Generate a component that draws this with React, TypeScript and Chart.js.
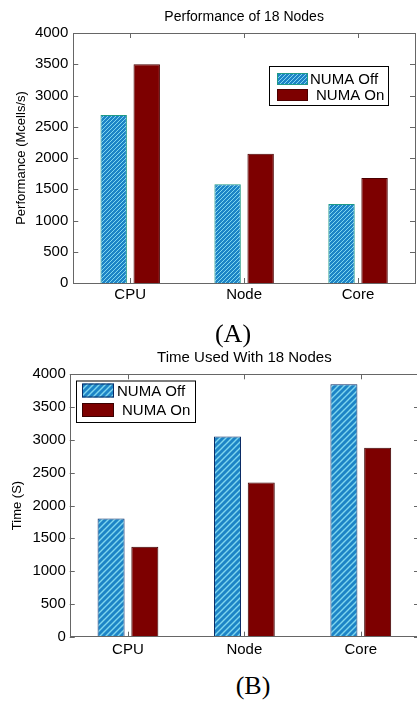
import React, { useEffect, useRef } from "react";
import { Chart, registerables } from "chart.js";

Chart.register(...registerables);

// ---- data ----
const categories = ["CPU", "Node", "Core"];
const seriesNames = ["NUMA Off", "NUMA On"];
const perfNumaOff = [2690, 1580, 1265];
const perfNumaOn = [3500, 2070, 1680];
const timeNumaOff = [1800, 3050, 3850];
const timeNumaOn = [1370, 2350, 2880];
const yTickStep = 500;
const yMax = 4000;

const FONT = "'Liberation Sans', Arial, sans-serif";

function makeHatch(base: string, stripe: string, size: number, lw: number): CanvasPattern | string {
  const c = document.createElement("canvas");
  c.width = size;
  c.height = size;
  const g = c.getContext("2d");
  if (!g) return base;
  g.fillStyle = base;
  g.fillRect(0, 0, size, size);
  g.strokeStyle = stripe;
  g.lineWidth = lw;
  g.beginPath();
  g.moveTo(-1, size + 1);
  g.lineTo(size + 1, -1);
  g.moveTo(-1, 1);
  g.lineTo(1, -1);
  g.moveTo(size - 1, size + 1);
  g.lineTo(size + 1, size - 1);
  g.stroke();
  const p = g.createPattern(c, "repeat");
  return p || base;
}

type LegendEntry = { sx: number; sy: number; sw: number; sh: number; tx: number; ty: number };
type PanelCfg = {
  title: string;
  yTitle: string;
  off: number[];
  on: number[];
  width: number;
  height: number;
  top: number;
  axisW: number;
  padTop: number;
  padRight: number;
  axisH: number;
  titleY: number;
  yTitleX: number;
  hatchSize: number;
  hatchLw: number;
  offBorder: string;
  onBorder: string;
  frameColor: string;
  legendBox: [number, number, number, number];
  legendItems: LegendEntry[];
  tickPadY: number;
  tickPadX: number;
  titleSize: number;
};

const decorPlugin = {
  id: "decor",
  afterDraw(chart: any, _args: any, o: any) {
    const ctx: CanvasRenderingContext2D = chart.ctx;
    const a = chart.chartArea;
    const ys = chart.scales.y;
    const xs = chart.scales.x;
    ctx.save();
    // frame
    ctx.strokeStyle = o.frameColor;
    ctx.lineWidth = 1;
    ctx.strokeRect(Math.round(a.left) + 0.5, Math.round(a.top) + 0.5, Math.round(a.right - a.left), Math.round(a.bottom - a.top));
    // inward ticks
    const tl = 5;
    ctx.beginPath();
    for (let v = 0; v <= yMax; v += yTickStep) {
      const y = Math.round(ys.getPixelForValue(v)) + 0.5;
      ctx.moveTo(a.left, y);
      ctx.lineTo(a.left + tl, y);
      ctx.moveTo(a.right, y);
      ctx.lineTo(a.right - tl, y);
    }
    categories.forEach((_c, i) => {
      const x = Math.round(xs.getPixelForValue(i)) + 0.5;
      ctx.moveTo(x, a.bottom);
      ctx.lineTo(x, a.bottom - tl);
      ctx.moveTo(x, a.top);
      ctx.lineTo(x, a.top + tl);
    });
    ctx.stroke();
    // title
    ctx.fillStyle = "#000";
    ctx.font = `${o.titleSize}px ${FONT}`;
    ctx.textAlign = "center";
    ctx.textBaseline = "middle";
    ctx.fillText(o.title, (a.left + a.right) / 2, o.titleY);
    // y title
    ctx.save();
    ctx.translate(o.yTitleX, (a.top + a.bottom) / 2);
    ctx.rotate(-Math.PI / 2);
    ctx.font = `13px ${FONT}`;
    ctx.fillText(o.yTitle, 0, 0);
    ctx.restore();
    // legend
    const [bx, by, bw, bh] = o.legendBox;
    ctx.fillStyle = "#fff";
    ctx.fillRect(bx, by, bw, bh);
    ctx.strokeStyle = "#000";
    ctx.strokeRect(bx + 0.5, by + 0.5, bw, bh);
    ctx.font = `15px ${FONT}`;
    ctx.textAlign = "left";
    o.legendItems.forEach((it: LegendEntry, i: number) => {
      const ds = chart.data.datasets[i];
      ctx.fillStyle = ds.backgroundColor;
      ctx.fillRect(it.sx, it.sy, it.sw, it.sh);
      ctx.strokeStyle = ds.borderColor;
      ctx.strokeRect(it.sx + 0.5, it.sy + 0.5, it.sw - 1, it.sh - 1);
      ctx.fillStyle = "#000";
      ctx.fillText(seriesNames[i], it.tx, it.ty);
    });
    ctx.restore();
  },
};

function BarPanel({ cfg }: { cfg: PanelCfg }) {
  const ref = useRef<HTMLCanvasElement | null>(null);
  useEffect(() => {
    if (!ref.current) return;
    const hatch = makeHatch("#1d84c6", "#7fd6ee", cfg.hatchSize, cfg.hatchLw);
    const chart = new Chart(ref.current, {
      type: "bar",
      data: {
        labels: categories,
        datasets: [
          {
            label: seriesNames[0],
            data: cfg.off,
            backgroundColor: hatch as any,
            borderColor: cfg.offBorder,
            borderWidth: 1,
            categoryPercentage: 0.58,
            barPercentage: 0.8,
          },
          {
            label: seriesNames[1],
            data: cfg.on,
            backgroundColor: "#7d0000",
            borderColor: cfg.onBorder,
            borderWidth: 1,
            categoryPercentage: 0.58,
            barPercentage: 0.8,
          },
        ],
      },
      options: {
        animation: false,
        responsive: false,
        maintainAspectRatio: false,
        layout: { padding: { left: 0, right: cfg.padRight, top: cfg.padTop, bottom: 0 } },
        plugins: {
          legend: { display: false },
          title: { display: false },
          tooltip: { enabled: false },
          decor: {
            title: cfg.title,
            yTitle: cfg.yTitle,
            titleY: cfg.titleY,
            titleSize: cfg.titleSize,
            yTitleX: cfg.yTitleX,
            frameColor: cfg.frameColor,
            legendBox: cfg.legendBox,
            legendItems: cfg.legendItems,
          },
        } as any,
        scales: {
          x: {
            grid: { display: false, drawTicks: false },
            border: { display: false },
            ticks: { color: "#000", font: { family: FONT, size: 15 }, padding: cfg.tickPadX },
            afterFit: (s: any) => {
              s.height = cfg.axisH;
            },
          },
          y: {
            min: 0,
            max: yMax,
            grid: { display: false, drawTicks: false },
            border: { display: false },
            ticks: {
              stepSize: yTickStep,
              color: "#000",
              font: { family: FONT, size: 15 },
              padding: cfg.tickPadY,
              callback: (v: any) => String(v),
            },
            afterFit: (s: any) => {
              s.width = cfg.axisW;
            },
          },
        },
      },
      plugins: [decorPlugin],
    });
    return () => chart.destroy();
  }, [cfg]);
  return (
    <canvas
      ref={ref}
      width={cfg.width}
      height={cfg.height}
      style={{ position: "absolute", left: 0, top: cfg.top, width: cfg.width, height: cfg.height, display: "block" }}
    />
  );
}

const panelA: PanelCfg = {
  title: "Performance of 18 Nodes",
  yTitle: "Performance (Mcells/s)",
  off: perfNumaOff,
  on: perfNumaOn,
  width: 417,
  height: 300,
  top: 0,
  axisW: 73.25,
  padTop: 33,
  padRight: 2,
  axisH: 17,
  titleY: 17,
  titleSize: 14,
  yTitleX: 21,
  hatchSize: 4,
  hatchLw: 1,
  offBorder: "#1f9a86",
  onBorder: "#4a0000",
  frameColor: "#666",
  legendBox: [269, 66, 119, 39],
  legendItems: [
    { sx: 277, sy: 73, sw: 31, sh: 12, tx: 310, ty: 80 },
    { sx: 277, sy: 89, sw: 31, sh: 12, tx: 316, ty: 96 },
  ],
  tickPadY: 5,
  tickPadX: 3,
};

const panelB: PanelCfg = {
  title: "Time Used With 18 Nodes",
  yTitle: "Time (S)",
  off: timeNumaOff,
  on: timeNumaOn,
  width: 420,
  height: 320,
  top: 340,
  axisW: 69.75,
  padTop: 34.3,
  padRight: 1,
  axisH: 23.3,
  titleY: 18,
  titleSize: 15,
  yTitleX: 17,
  hatchSize: 6,
  hatchLw: 1.4,
  offBorder: "#0b2c66",
  onBorder: "#3a0000",
  frameColor: "#666",
  legendBox: [76, 40.5, 119, 41.5],
  legendItems: [
    { sx: 82, sy: 43.5, sw: 32, sh: 14, tx: 117, ty: 52 },
    { sx: 82, sy: 63, sw: 32, sh: 14, tx: 122, ty: 71 },
  ],
  tickPadY: 4,
  tickPadX: 4,
};

export default function App() {
  return (
    <div style={{ position: "absolute", left: 0, top: 0, width: 417, height: 702, overflow: "hidden", background: "#fff" }}>
      <BarPanel cfg={panelA} />
      <BarPanel cfg={panelB} />
      <div
        style={{
          position: "absolute",
          left: 183,
          top: 319,
          width: 100,
          textAlign: "center",
          font: "26px 'Liberation Serif', serif",
          lineHeight: "30px",
          color: "#000",
        }}
      >
        (A)
      </div>
      <div
        style={{
          position: "absolute",
          left: 203,
          top: 671,
          width: 100,
          textAlign: "center",
          font: "26px 'Liberation Serif', serif",
          lineHeight: "30px",
          color: "#000",
        }}
      >
        (B)
      </div>
    </div>
  );
}
